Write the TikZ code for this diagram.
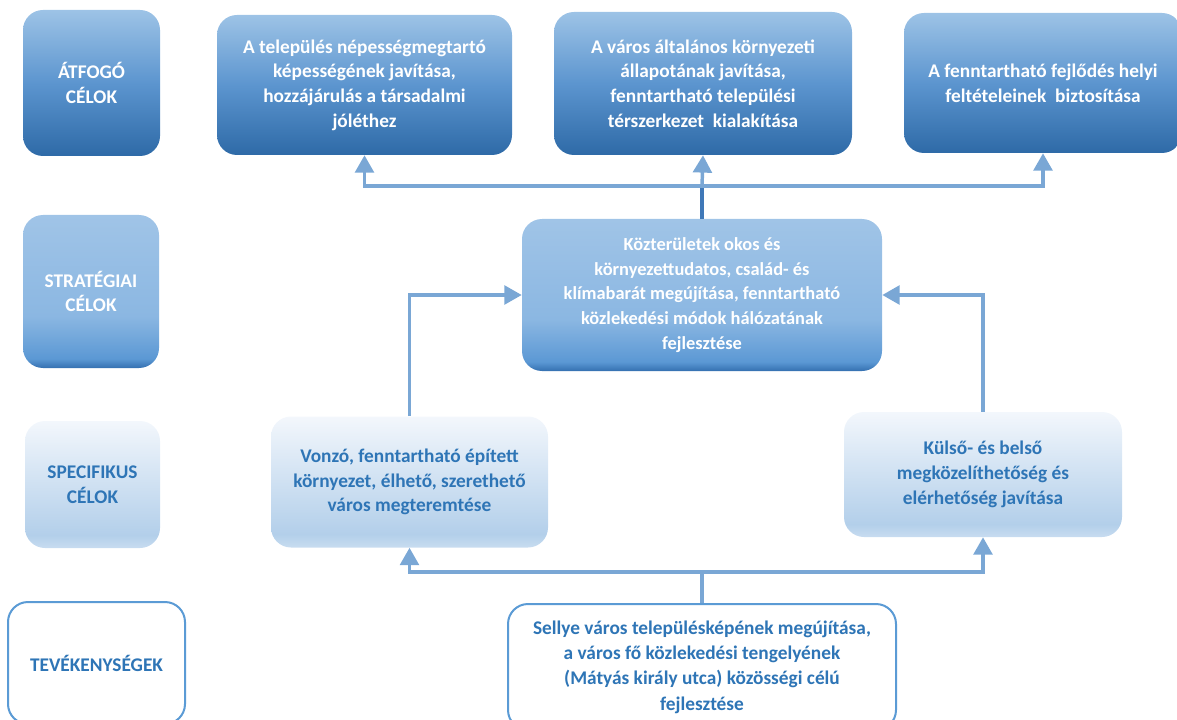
\documentclass[tikz,border=0pt]{standalone}
\usepackage{fontspec}
\setmainfont{Carlito}
\usetikzlibrary{arrows.meta}
\definecolor{dtop}{HTML}{9DC3E6}
\definecolor{dmid}{HTML}{5C95CF}
\definecolor{dbot}{HTML}{2E6AA7}
\definecolor{sdark}{HTML}{3470B0}
\definecolor{smid}{HTML}{5B98D4}
\definecolor{slight2}{HTML}{8BB7E2}
\definecolor{slight}{HTML}{A0C4E7}
\definecolor{ptop}{HTML}{F3F7FC}
\definecolor{pmid}{HTML}{D6E5F4}
\definecolor{pbot}{HTML}{B3CFEA}
\definecolor{pbot2}{HTML}{C8DCF0}
\definecolor{txtblue}{HTML}{2E75B6}
\definecolor{arrcol}{HTML}{7AA7D5}
\definecolor{arrdark}{HTML}{3F78B8}
\definecolor{border}{HTML}{5B9BD5}
\pgfdeclareverticalshading{stratsh}{100bp}{color(0bp)=(sdark); color(25bp)=(sdark); color(28bp)=(smid); color(42bp)=(slight2); color(75bp)=(slight); color(100bp)=(slight)}
\pgfdeclareverticalshading{specsh}{100bp}{color(0bp)=(pbot2); color(25bp)=(pbot2); color(30bp)=(pbot); color(55bp)=(pmid); color(75bp)=(ptop); color(100bp)=(ptop)}
\begin{document}
\begin{tikzpicture}[x=0.75pt,y=-0.75pt,
  wh/.style 2 args={minimum width={#1*0.75pt}, minimum height={#2*0.75pt}},
  box/.style={rounded corners=15pt, align=center, inner sep=0pt,
    font=\fontsize{14.5}{18.5}\selectfont\bfseries},
  midfont/.style={font=\fontsize{13.8}{18.5}\selectfont\bfseries},
  darkbox/.style={box, top color=dtop, bottom color=dbot, middle color=dmid, text=white},
  stratbox/.style={box, shading=stratsh, text=white},
  specbox/.style={box, shading=specsh, text=txtblue},
  actbox/.style={box, draw=border, line width=1.5pt, fill=white, text=txtblue},
  arr/.style={draw=arrcol, line width=2.6pt, -{Triangle[width=14pt,length=13pt]}},
  ln/.style={draw=arrcol, line width=2.6pt}
]
\useasboundingbox (0,0) rectangle (1177,720);
\clip (0,0) rectangle (1177,720);

% row labels
\node[darkbox, wh={137}{146}] (la) at (91.5,83) {ÁTFOGÓ\\CÉLOK};
\node[stratbox, wh={136}{153}] (ls) at (91,291.5) {STRATÉGIAI\\CÉLOK};
\node[specbox, wh={135}{127}] (lp) at (92.5,484.5) {SPECIFIKUS\\CÉLOK};
\node[actbox, wh={177}{122}] (lt) at (96.5,663) {TEVÉKENYSÉGEK};

% top goals
\node[darkbox, wh={295}{140}] (t1) at (364.5,85)
  {A település népességmegtartó\\képességének javítása,\\hozzájárulás a társadalmi\\jóléthez};
\node[darkbox, wh={298}{143}] (t2) at (703,83.5)
  {A város általános környezeti\\állapotának javítása,\\fenntartható települési\\térszerkezet\ \ kialakítása};
\node[darkbox, wh={278}{140}] (t3) at (1043,83)
  {A fenntartható fejlődés helyi\\feltételeinek\ \ biztosítása};

% strategic
\node[stratbox, midfont, wh={360}{152}] (s) at (702,295)
  {Közterületek okos és\\környezettudatos, család- és\\klímabarát megújítása, fenntartható\\közlekedési módok hálózatának\\fejlesztése};

% specific
\node[specbox, wh={277}{131}] (p1) at (409.5,482)
  {Vonzó, fenntartható épített\\környezet, élhető, szerethető\\város megteremtése};
\node[specbox, wh={278}{125}] (p2) at (983,474.5)
  {Külső- és belső\\megközelíthetőség és\\elérhetőség javítása};

% activity
\node[actbox, font=\fontsize{14.5}{19}\selectfont\bfseries, wh={388}{126}] (b) at (702,667)
  {Sellye város településképének megújítása,\\a város fő közlekedési tengelyének\\(Mátyás király utca) közösségi célú\\fejlesztése};

% connectors
\coordinate (j1) at (702,186);
\coordinate (j2) at (702,572);
\draw[draw=arrdark, line width=2.6pt] (s.north) -- (j1);
\draw[arr] (j1) -- (t2.south);
\draw[arr] (j1) -| (t1.south);
\draw[arr] (j1) -| (t3.south);
\draw[arr] (p1.north) |- (s.west);
\draw[arr] (p2.north) |- (s.east);
\draw[ln] (b.north) -- (j2);
\draw[arr] (j2) -| (p1.south);
\draw[arr] (j2) -| (p2.south);
\end{tikzpicture}
\end{document}
